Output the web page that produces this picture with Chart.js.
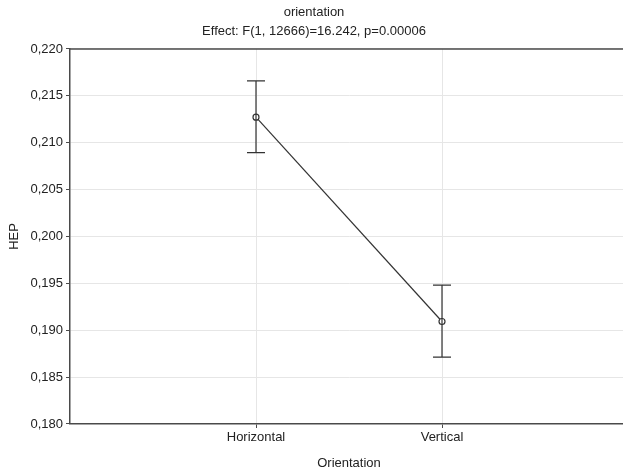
<!DOCTYPE html>
<html>
<head>
<meta charset="utf-8">
<script src="https://cdn.jsdelivr.net/npm/chart.js@4/dist/chart.umd.min.js"></script>
<style>
  html, body { margin: 0; padding: 0; background: #fff; overflow: hidden; }
  #wrap { width: 634px; height: 471px; }
</style>
</head>
<body>
<div id="wrap"><canvas id="myChart"></canvas></div>
<script>
const categories = ['Horizontal', 'Vertical']
const means = [0.21272, 0.19093]
const lower = [0.20895, 0.18713]
const upper = [0.21660, 0.19481]
const titleLines = ['orientation', 'Effect: F(1, 12666)=16.242, p=0.00006']

const axisColor = '#4a4a4a'
const gridColor = '#e6e6e6'
const font = { family: 'Liberation Sans, Arial, sans-serif', size: 13 }

// error bars with caps, drawn through the scales
const errorBars = {
    id: 'errorBars',
    afterDatasetsDraw(chart) {
        const { ctx, scales: { x, y } } = chart
        ctx.save()
        ctx.strokeStyle = '#333'
        ctx.lineWidth = 1.2
        categories.forEach((c, i) => {
            const px = x.getPixelForValue(i + 1)
            const top = y.getPixelForValue(upper[i])
            const bot = y.getPixelForValue(lower[i])
            ctx.beginPath()
            ctx.moveTo(px, top); ctx.lineTo(px, bot)
            ctx.moveTo(px - 9, top); ctx.lineTo(px + 9, top)
            ctx.moveTo(px - 9, bot); ctx.lineTo(px + 9, bot)
            ctx.stroke()
        })
        ctx.restore()
    }
}

// top frame line
const frame = {
    id: 'frame',
    afterDraw(chart) {
        const { ctx, chartArea } = chart
        ctx.save()
        ctx.strokeStyle = axisColor
        ctx.lineWidth = 1.5
        ctx.beginPath()
        ctx.moveTo(chartArea.left, chartArea.top)
        ctx.lineTo(chartArea.right, chartArea.top)
        ctx.stroke()
        ctx.restore()
    }
}

const ctx = document.getElementById('myChart')

new Chart(ctx, {
    type: 'line',
    data: {
        datasets: [{
            data: means.map((m, i) => ({ x: i + 1, y: m })),
            borderColor: '#333',
            borderWidth: 1.2,
            pointRadius: 3,
            pointBackgroundColor: '#fff',
            pointBorderColor: '#333',
            pointBorderWidth: 1.2,
            tension: 0
        }]
    },
    options: {
        responsive: true,
        maintainAspectRatio: false,
        animation: false,
        layout: { padding: { left: 0, right: 6, top: 0, bottom: 0 } },
        plugins: {
            legend: { display: false },
            tooltip: { enabled: false },
            title: {
                display: true,
                text: titleLines,
                color: '#222',
                font: { ...font, weight: 'normal', lineHeight: 1.46 },
                padding: { top: 3, bottom: 8 }
            }
        },
        scales: {
            x: {
                type: 'linear',
                min: 0,
                max: 3,
                afterBuildTicks: scale => {
                    scale.ticks = categories.map((c, i) => ({ value: i + 1 }))
                },
                afterFit: scale => { scale.height = 47 },
                ticks: {
                    color: '#222',
                    font: font,
                    padding: 2,
                    maxRotation: 0,
                    callback: v => categories[v - 1]
                },
                grid: { color: gridColor, tickColor: axisColor, tickLength: 4 },
                border: { color: axisColor, width: 1.5 },
                title: {
                    display: true,
                    text: 'Orientation',
                    color: '#222',
                    font: font,
                    padding: { top: 4, bottom: 0 }
                }
            },
            y: {
                min: 0.18,
                max: 0.22,
                afterFit: scale => { scale.width = 70 },
                ticks: {
                    stepSize: 0.005,
                    color: '#222',
                    font: font,
                    padding: 3,
                    callback: v => v.toFixed(3).replace('.', ',')
                },
                grid: { color: gridColor, tickColor: axisColor, tickLength: 4 },
                border: { color: axisColor, width: 1.5 },
                title: {
                    display: true,
                    text: 'HEP',
                    color: '#222',
                    font: font,
                    padding: { top: 7, bottom: 4 }
                }
            }
        }
    },
    plugins: [errorBars, frame]
});
</script>
</body>
</html>
